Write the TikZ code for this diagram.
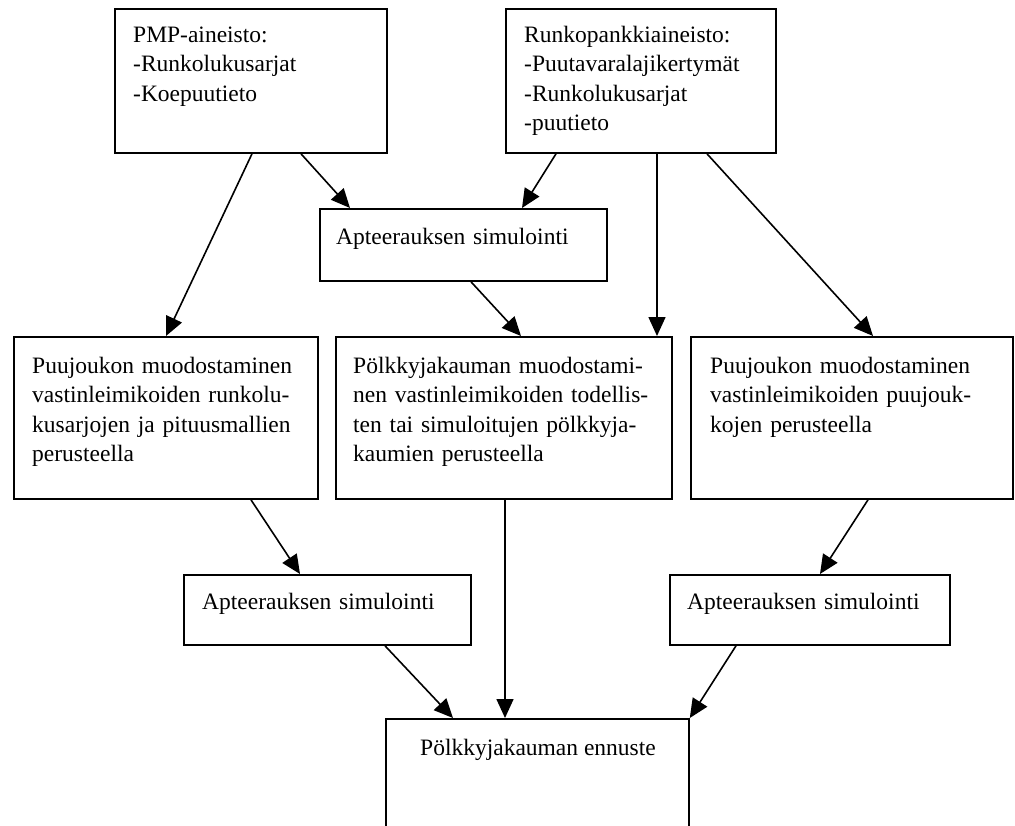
\documentclass[tikz,border=0pt]{standalone}
\usepackage{fontspec}
\setmainfont{Liberation Serif}
\usetikzlibrary{arrows.meta}
\begin{document}
\begin{tikzpicture}[x=1pt, y=-1pt,
  box/.style={draw, line width=1.8pt, rectangle, inner sep=0pt, anchor=north west},
  txt/.style={anchor=base west, inner sep=0pt, text width=330pt, align=left,
              font=\fontsize{23.5}{29.6}\selectfont},
  ctxt/.style={anchor=base, inner sep=0pt, font=\fontsize{23.5}{29.6}\selectfont},
  link/.style={line width=1.6pt, -{Triangle[length=19pt,width=17pt]}}]
\clip (0,0) rectangle (1015,825);

% source data boxes
\node[box, minimum width=272pt, minimum height=144pt] (b1) at (114,8) {};
\node[box, minimum width=270pt, minimum height=144pt] (b2) at (505,8) {};
% first simulation step
\node[box, minimum width=287pt, minimum height=72pt] (b3) at (319,208) {};
% three derivation boxes
\node[box, minimum width=304pt, minimum height=162pt] (b4) at (13,336) {};
\node[box, minimum width=336pt, minimum height=162pt] (b5) at (335,336) {};
\node[box, minimum width=322pt, minimum height=162pt] (b6) at (690,336) {};
% lower simulation steps
\node[box, minimum width=287pt, minimum height=70pt] (b7) at (183,574) {};
\node[box, minimum width=280pt, minimum height=70pt] (b8) at (669,574) {};
% forecast (runs past the lower edge)
\node[box, minimum width=303pt, minimum height=130pt] (b9) at (385,718) {};

% texts
\node[txt] (t1) at (133,42) {PMP-aineisto:\\-Runkolukusarjat\\-Koepuutieto};
\node[txt] (t2) at (524,42) {Runkopankkiaineisto:\\-Puutavaralajikertymät\\-Runkolukusarjat\\-puutieto};
\node[txt] (t3) at (336,244) {Apteerauksen simulointi};
\node[txt] (t4) at (32,373) {Puujoukon muodostaminen\\vastinleimikoiden runkolu-\\kusarjojen ja pituusmallien\\perusteella};
\node[txt] (t5) at (353,373) {Pölkkyjakauman muodostami-\\nen vastinleimikoiden todellis-\\ten tai simuloitujen pölkkyja-\\kaumien perusteella};
\node[txt] (t6) at (710,373) {Puujoukon muodostaminen\\vastinleimikoiden puujouk-\\kojen perusteella};
\node[txt] (t7) at (202,609) {Apteerauksen simulointi};
\node[txt] (t8) at (687,609) {Apteerauksen simulointi};
\node[ctxt] (t9) at (538,755) {Pölkkyjakauman ennuste};

% connectors
\draw[link] ([xshift=138pt]b1.south west) -- ([xshift=153pt]b4.north west);
\draw[link] ([xshift=187pt]b1.south west) -- ([xshift=31pt]b3.north west);
\draw[link] ([xshift=51pt]b2.south west) -- ([xshift=203pt]b3.north west);
\draw[link] ([xshift=152pt]b2.south west) -- ([xshift=322pt]b5.north west);
\draw[link] ([xshift=202pt]b2.south west) -- ([xshift=183pt]b6.north west);
\draw[link] ([xshift=152pt]b3.south west) -- ([xshift=186pt]b5.north west);
\draw[link] ([xshift=238pt]b4.south west) -- ([xshift=117pt]b7.north west);
\draw[link] ([xshift=170pt]b5.south west) -- ([xshift=120pt]b9.north west);
\draw[link] ([xshift=178pt]b6.south west) -- ([xshift=151pt]b8.north west);
\draw[link] ([xshift=202pt]b7.south west) -- ([xshift=68pt]b9.north west);
\draw[link] ([xshift=67pt]b8.south west) -- (b9.north east);
\end{tikzpicture}
\end{document}
